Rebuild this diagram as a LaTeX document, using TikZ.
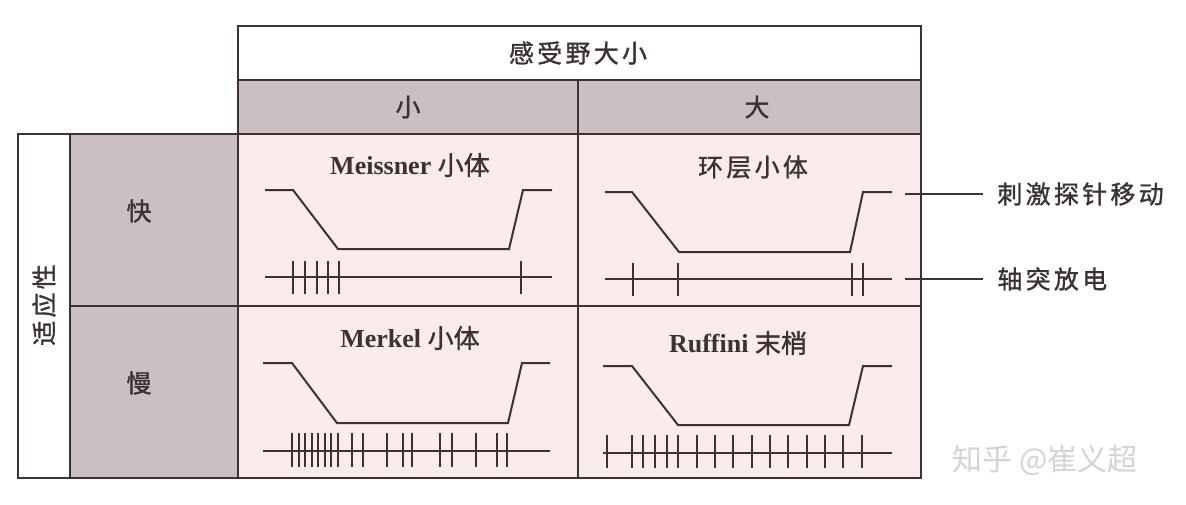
\documentclass[tikz,border=0pt]{standalone}
\usepackage{fontspec}
\setmainfont{Liberation Serif}
\newfontfamily\cjk[LetterSpace=13, FakeBold=1.2]{Noto Sans CJK SC}
\newfontfamily\cjkplain[FakeBold=1.2]{Noto Sans CJK SC}
\newfontfamily\cjkwm{Noto Sans CJK SC}
\definecolor{ink}{RGB}{60,50,50}
\definecolor{hdr}{RGB}{203,191,193}
\definecolor{cellbg}{RGB}{250,236,236}
\definecolor{wm}{RGB}{212,212,212}
\tikzset{
  border/.style={draw=ink, line width=1pt},
  trace/.style={draw=ink, line width=1pt, line join=miter},
  spike/.style={draw=ink, line width=1pt},
  lbl/.style={text=ink, font=\fontsize{12.5}{14}\selectfont\cjk, inner sep=0pt},
  ttl/.style={text=ink, font=\fontsize{13}{15}\selectfont\bfseries, inner sep=0pt},
}
\begin{document}
\begin{tikzpicture}[x=0.5pt,y=-0.5pt]
\useasboundingbox[fill=white] (0,0) rectangle (1186,504);
% header
\path[border, fill=white] (238,26) rectangle (921,80);
\path[border, fill=hdr] (238,80) rectangle (578,134);
\path[border, fill=hdr] (578,80) rectangle (921,134);
% left column
\path[border, fill=white] (18,134) rectangle (70,478);
\path[border, fill=hdr] (70,134) rectangle (238,306);
\path[border, fill=hdr] (70,306) rectangle (238,478);
% cells
\path[border, fill=cellbg] (238,134) rectangle (578,306);
\path[border, fill=cellbg] (578,134) rectangle (921,306);
\path[border, fill=cellbg] (238,306) rectangle (578,478);
\path[border, fill=cellbg] (578,306) rectangle (921,478);

% header texts
\node[lbl] (rf) at (578,53) {感受野大小};
\node[lbl] (small) at (408,107) {小};
\node[lbl] (large) at (757,107) {大};
\node[lbl, rotate=90] (adapt) at (44,305) {适应性};
\node[lbl] (fast) at (139,211) {快};
\node[lbl] (slow) at (139,383) {慢};

% cell titles
\node[ttl] (t1) at (410,165) {Meissner {\cjkplain\mdseries 小体}};
\node[lbl] (t2) at (753,167) {环层小体};
\node[ttl] (t3) at (410,338) {Merkel {\cjkplain\mdseries 小体}};
\node[ttl] (t4) at (738,343) {Ruffini {\cjkplain\mdseries 末梢}};

% cell 1
\draw[trace] (265,190) -- (293,190) -- (338,249) -- (509,249) -- (523,190) -- (552,190);
\draw[spike] (265,277) -- (552,277);
\foreach \x in {293,305,317,328,339,521} \draw[spike] (\x,261) -- (\x,294);
% cell 2
\draw[trace] (605,192) -- (632,192) -- (679,252) -- (850,252) -- (863,192) -- (892,192);
\draw[spike] (605,279) -- (892,279);
\foreach \x in {633,678,852,863} \draw[spike] (\x,263) -- (\x,296);
% cell 3
\draw[trace] (263,363) -- (292,363) -- (337,423) -- (508,423) -- (522,363) -- (550,363);
\draw[spike] (263,451) -- (550,451);
\foreach \x in {292,298.5,305,311.5,318,324.5,331,337.5,352,363,387,403,412,440,452,476,497,507}
  \draw[spike] (\x,433) -- (\x,467);
% cell 4
\draw[trace] (603,366) -- (632,366) -- (678,425) -- (849,425) -- (863,366) -- (892,366);
\draw[spike] (603,453) -- (892,453);
\foreach \x in {607,632,643,655,667,678,697,715,733,752,770,788,807,825,843,862}
  \draw[spike] (\x,435) -- (\x,468);

% side labels
\coordinate (s1) at (905,194);
\coordinate (s2) at (905,279);
\node[lbl, anchor=west, inner xsep=7pt] (lab1) at (983,194) {刺激探针移动};
\node[lbl, anchor=west, inner xsep=7pt] (lab2) at (983,279) {轴突放电};
\draw[spike] (s1) -- (lab1.west);
\draw[spike] (s2) -- (lab2.west);

% watermark
\node[text=wm, font=\fontsize{15}{17}\selectfont\cjkwm, inner sep=0pt] (wmk) at (1045,460) {知乎 @崔义超};
\end{tikzpicture}
\end{document}
